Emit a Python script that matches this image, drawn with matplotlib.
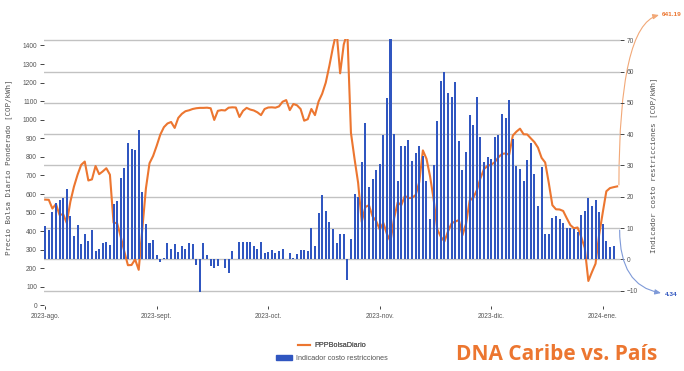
import matplotlib
matplotlib.use("Agg")
import matplotlib.pyplot as plt
from matplotlib.lines import Line2D
from matplotlib.patches import Patch

# Daily weighted exchange price (COP/kWh), from 2023-08-01
precio_bolsa = [
    570, 569, 522, 546, 487, 492, 444, 559, 640, 704,
    757, 775, 673, 679, 751, 707, 722, 739, 704, 446,
    443, 371, 290, 217, 218, 248, 192, 414, 630, 766,
    805, 860, 920, 960, 980, 988, 956, 1010, 1032, 1046,
    1051, 1058, 1062, 1064, 1064, 1065, 1062, 999, 1048, 1052,
    1050, 1065, 1067, 1066, 1015, 1048, 1064, 1055, 1050, 1040,
    1025, 1058, 1066, 1067, 1065, 1072, 1097, 1106, 1052, 1085,
    1078, 1058, 995, 1003, 1058, 1025, 1098, 1140, 1200, 1290,
    1390, 1475, 1250, 1405, 1470, 930, 790, 660, 450, 530,
    540, 480, 455, 410, 445, 385, 345, 470, 555, 540,
    590, 578, 580, 595, 665, 835, 790, 695, 570, 410,
    370, 345, 400, 443, 452, 460, 378, 440, 565, 580,
    620, 685, 735, 752, 758, 772, 798, 816, 819, 812,
    915, 936, 952, 922, 921, 900, 880, 850, 795, 770,
    660, 540, 518, 517, 509, 470, 433, 416, 420, 370,
    310, 132, 180, 225, 380, 500, 615, 632, 637, 641.19,
]

# Daily restriction-cost indicator (COP/kWh)
indicador_restricciones = [
    10.5, 9.4, 15.1, 18.1, 19.1, 19.7, 22.6, 13.7, 7.4, 11.1,
    4.9, 8.1, 5.9, 9.3, 2.8, 3.3, 5.2, 5.7, 4.6, 17.8,
    18.5, 25.9, 29.1, 37.3, 35.4, 35.0, 41.4, 21.6, 11.4, 5.1,
    6.1, 1.4, -0.9, 0.4, 5.1, 3.2, 4.8, 2.4, 4.4, 3.3,
    5.2, 4.8, -1.9, -10.3, 5.1, 1.5, -2.0, -2.9, -2.2, 0.0,
    -2.9, -4.2, 2.7, 0.0, 5.4, 5.4, 5.5, 5.4, 4.3, 3.3,
    5.5, 1.9, 2.4, 3.0, 2.0, 2.7, 3.2, 0.2, 2.1, 0.4,
    1.7, 3.0, 3.0, 2.6, 10.1, 4.2, 14.9, 20.5, 15.5, 11.9,
    9.6, 5.3, 8.1, 8.0, -6.5, 6.5, 21.0, 20.0, 31.1, 43.7,
    23.0, 25.8, 28.7, 30.4, 39.8, 51.7, 71.0, 39.9, 25.1, 36.3,
    36.3, 38.0, 31.5, 34.0, 36.3, 33.0, 25.1, 13.0, 30.0, 44.2,
    57.0, 60.0, 53.2, 52.0, 56.5, 37.8, 28.6, 34.3, 46.0, 42.8,
    52.0, 39.0, 31.0, 32.7, 32.1, 39.0, 39.8, 46.4, 45.3, 51.0,
    38.4, 29.9, 28.8, 25.0, 31.8, 37.1, 27.4, 17.1, 29.6, 8.0,
    8.1, 13.3, 13.9, 13.0, 11.7, 10.0, 9.9, 9.7, 8.6, 14.3,
    15.3, 19.7, 17.1, 18.9, 15.1, 11.3, 6.0, 4.1, 4.34,
]

mes_pos = [0, 31, 62, 93, 124, 155]
mes_etiquetas = ["2023-ago.", "2023-sept.", "2023-oct.", "2023-nov.", "2023-dic.", "2024-ene."]
ticks_precio = list(range(0, 1500, 100))
ticks_indicador = list(range(-10, 80, 10))

NARANJA = "#ec7630"
AZUL = "#3056c0"
GRIS = "#555555"

fig = plt.figure(figsize=(6.84, 3.71), dpi=100)
ax = fig.add_axes([44 / 684, 1 - 306 / 371, 576 / 684, 267.5 / 371])
ax2 = ax.twinx()

dias_precio = list(range(len(precio_bolsa)))
dias_ind = list(range(len(indicador_restricciones)))

ax.set_ylim(-2.7, 1437.5)
ax.set_yticks(ticks_precio)
ax.set_xlim(-0.33, 159.8)
ax.set_xticks(mes_pos, mes_etiquetas)

ax2.set_ylim(-14.9, 70.55)
ax2.set_yticks(ticks_indicador)
ax2.set_axisbelow(True)
ax2.yaxis.grid(True, color="#c2c2c2", linewidth=1.0)

# price line uses the left scale but sits between the grid and the bars
ax2.plot(dias_precio, precio_bolsa, color=NARANJA, linewidth=1.5, zorder=1.5,
         transform=ax.transData)
ax2.bar(dias_ind, indicador_restricciones, width=0.56, color=AZUL, zorder=2)

for a in (ax, ax2):
    for s in a.spines.values():
        s.set_visible(False)

ax.tick_params(axis="y", length=3, width=0.7, color="#444444", labelcolor=GRIS,
               labelsize=4.8, pad=2, labelfontfamily="Liberation Sans")
ax.tick_params(axis="x", length=2.5, width=0.7, color="#444444", labelcolor=GRIS,
               labelsize=4.8, pad=2.5, labelfontfamily="Liberation Sans")
ax2.tick_params(axis="y", length=3, width=0.7, color="#444444", labelcolor=GRIS,
                labelsize=4.8, pad=2, labelfontfamily="Liberation Sans")

ax.set_ylabel("Precio Bolsa Diario Ponderado [COP/kWh]", fontsize=5.4,
              family="DejaVu Sans Mono", color=GRIS)
ax.yaxis.set_label_coords(-0.0556, 0.518)
ax2.set_ylabel("Indicador costo restricciones [COP/kWh]", fontsize=5.4,
               family="DejaVu Sans Mono", color=GRIS)
ax2.yaxis.set_label_coords(1.052, 0.527)

# legend entries, each centred on its own row
leg1 = fig.legend(handles=[Line2D([], [], color=NARANJA, lw=1.5)], labels=["PPPBolsaDiario"],
                  loc="center", bbox_to_anchor=(332 / 684, 1 - 345.7 / 371), frameon=False,
                  prop={"family": "Liberation Sans", "size": 5.2}, handlelength=1.7,
                  handletextpad=0.6, borderpad=0, borderaxespad=0)
for t in leg1.get_texts():
    t.set_color(GRIS)
leg2 = fig.legend(handles=[Patch(color=AZUL)], labels=["Indicador costo restricciones"],
                  loc="center", bbox_to_anchor=(332 / 684, 1 - 358.3 / 371), frameon=False,
                  prop={"family": "Liberation Sans", "size": 5.2}, handlelength=2.1,
                  handleheight=0.7, handletextpad=0.6, borderpad=0, borderaxespad=0)
for t in leg2.get_texts():
    t.set_color(GRIS)
fig.add_artist(leg1)

# callouts for the last values of each series
ult_x = dias_precio[-1]
fig.text(662 / 684, 1 - 14 / 371, f"{precio_bolsa[-1]:.2f}", color=NARANJA, fontsize=4.6,
         fontweight="bold", family="Liberation Sans", va="center", ha="left")
ax.annotate("", xy=(659 / 684, 1 - 15 / 371), xycoords="figure fraction",
            xytext=(ult_x + 0.5, precio_bolsa[-1] + 8), textcoords=ax.transData,
            arrowprops=dict(arrowstyle="-|>,head_length=0.35,head_width=0.15", color="#f2a877",
                            lw=0.8, connectionstyle="angle3,angleA=90,angleB=15",
                            shrinkA=0, shrinkB=0))

fig.text(665 / 684, 1 - 294 / 371, f"{indicador_restricciones[-1]:.2f}", color=AZUL,
         fontsize=4.6, fontweight="bold", family="Liberation Sans", va="center", ha="left")
ax2.annotate("", xy=(661 / 684, 1 - 293 / 371), xycoords="figure fraction",
             xytext=(dias_ind[-1] + 1.7, indicador_restricciones[-1] + 5), textcoords=ax2.transData,
             arrowprops=dict(arrowstyle="-|>,head_length=0.35,head_width=0.15", color="#7f9ad8",
                             lw=0.8, connectionstyle="angle3,angleA=-90,angleB=-10",
                             shrinkA=0, shrinkB=0))

fig.text(456 / 684, 1 - 360.5 / 371, "DNA Caribe vs. País", color=NARANJA, fontsize=15,
         fontweight="bold", family="Open Sans", va="baseline", ha="left")

fig.savefig("out.png", dpi=100)
